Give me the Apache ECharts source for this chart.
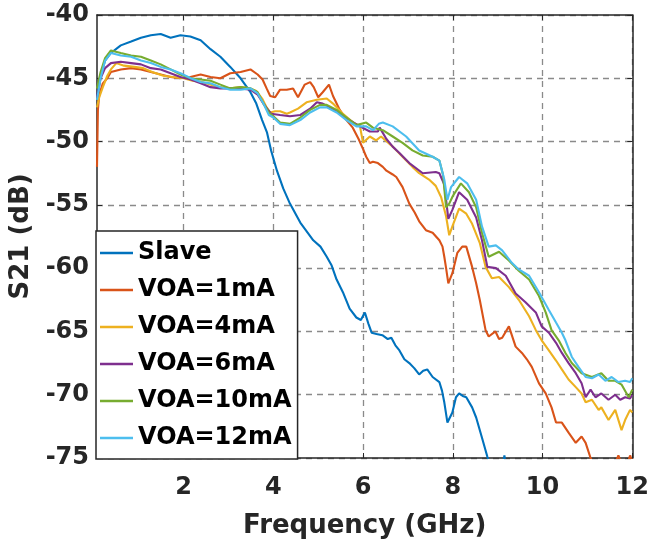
<!DOCTYPE html>
<html>
<head>
<meta charset="utf-8">
<script src="https://cdn.jsdelivr.net/npm/echarts@6/dist/echarts.min.js"></script>
<style>
  html, body { margin: 0; padding: 0; background: #fff; }
  #chart { width: 652px; height: 549px; }
</style>
</head>
<body>
<div id="chart"></div>
<script>
// S21 response vs frequency for the slave laser and several VOA currents

const seriesNames = ['Slave', 'VOA=1mA', 'VOA=4mA', 'VOA=6mA', 'VOA=10mA', 'VOA=12mA'];
const xTicks = [2, 4, 6, 8, 10, 12];

const slaveFreq = [0.07, 0.15, 0.25, 0.38, 0.6, 0.83, 1.05, 1.27, 1.49, 1.71, 1.93, 2.15, 2.38, 2.6, 2.82, 3.04, 3.27, 3.49, 3.62, 3.75, 3.86, 3.95, 4.08, 4.22, 4.37, 4.6, 4.89, 5.05, 5.19, 5.3, 5.41, 5.55, 5.7, 5.85, 5.95, 6.04, 6.12, 6.19, 6.3, 6.43, 6.55, 6.63, 6.72, 6.81, 6.92, 7.03, 7.14, 7.25, 7.34, 7.43, 7.55, 7.7, 7.76, 7.81, 7.88, 7.99, 8.07, 8.14, 8.22, 8.3, 8.43, 8.52, 8.65, 8.77, 8.85, 9.0, 9.1, 9.15, 9.2, 9.4, 10, 11, 12];
const slaveS21 = [-46.5, -44.8, -43.6, -43.0, -42.4, -42.1, -41.8, -41.6, -41.5, -41.8, -41.6, -41.7, -42.0, -42.7, -43.3, -44.1, -45.0, -46.1, -47.0, -48.3, -49.3, -50.7, -52.3, -53.7, -54.9, -56.4, -57.8, -58.3, -59.1, -59.8, -60.9, -61.9, -63.2, -63.9, -64.1, -63.5, -64.4, -65.1, -65.2, -65.3, -65.6, -65.5, -66.1, -66.5, -67.2, -67.5, -67.9, -68.4, -68.1, -68.0, -68.6, -69.0, -69.7, -70.6, -72.2, -71.4, -70.2, -69.9, -70.1, -70.2, -71.0, -71.8, -73.4, -74.9, -75.8, -76.8, -75.9, -74.8, -76.3, -77.5, -79.5, -81.5, -83.0];

const voa1Freq = [0.07, 0.09, 0.12, 0.2, 0.3, 0.38, 0.6, 0.83, 1.05, 1.27, 1.49, 1.71, 1.93, 2.15, 2.38, 2.6, 2.82, 3.04, 3.27, 3.49, 3.65, 3.76, 3.85, 3.93, 4.04, 4.15, 4.3, 4.44, 4.55, 4.7, 4.82, 4.9, 5.0, 5.1, 5.24, 5.33, 5.48, 5.63, 5.77, 5.9, 6.0, 6.07, 6.15, 6.22, 6.33, 6.44, 6.52, 6.66, 6.74, 6.88, 7.03, 7.15, 7.25, 7.4, 7.55, 7.7, 7.77, 7.81, 7.85, 7.9, 7.99, 8.1, 8.21, 8.3, 8.43, 8.52, 8.6, 8.73, 8.8, 8.95, 9.03, 9.1, 9.25, 9.4, 9.54, 9.65, 9.76, 9.92, 10.07, 10.2, 10.3, 10.43, 10.58, 10.74, 10.87, 10.96, 11.07, 11.2, 11.4, 11.6, 11.69, 11.8, 11.9, 11.95, 12.0];
const voa1S21 = [-52.0, -47.5, -46.3, -45.4, -45.0, -44.5, -44.3, -44.2, -44.3, -44.5, -44.7, -44.9, -45.0, -44.9, -44.7, -44.9, -45.0, -44.6, -44.5, -44.3, -44.7, -45.1, -45.8, -46.4, -46.5, -45.9, -45.9, -45.8, -46.5, -45.5, -45.3, -45.7, -46.5, -46.1, -45.5, -46.4, -47.5, -48.3, -48.9, -49.8, -50.6, -51.2, -51.7, -51.6, -51.7, -52.0, -52.3, -52.6, -52.8, -53.6, -54.9, -55.6, -56.3, -57.0, -57.2, -57.8, -58.3, -59.1, -60.0, -61.2, -60.4, -58.8, -58.3, -58.3, -59.9, -61.2, -62.5, -64.9, -65.4, -65.0, -65.6, -65.5, -64.6, -66.2, -66.7, -67.2, -67.8, -69.1, -69.9, -71.0, -72.2, -72.2, -73.0, -73.8, -73.3, -73.8, -75.0, -76.0, -76.5, -75.6, -74.8, -75.8, -75.4, -74.8, -75.3];

const voa4Freq = [0.07, 0.12, 0.2, 0.3, 0.38, 0.5, 0.67, 0.9, 1.1, 1.3, 1.55, 1.75, 2.0, 2.2, 2.4, 2.6, 2.82, 3.04, 3.27, 3.49, 3.62, 3.75, 3.85, 3.93, 4.04, 4.15, 4.3, 4.37, 4.55, 4.74, 4.97, 5.19, 5.33, 5.55, 5.78, 5.93, 6.0, 6.15, 6.29, 6.4, 6.66, 6.88, 7.1, 7.25, 7.47, 7.62, 7.74, 7.85, 7.92, 7.99, 8.14, 8.3, 8.43, 8.6, 8.73, 8.87, 9.03, 9.25, 9.47, 9.7, 9.85, 9.98, 10.14, 10.3, 10.43, 10.58, 10.74, 10.87, 10.96, 11.1, 11.25, 11.31, 11.47, 11.62, 11.76, 11.84, 11.95, 12.0];
const voa4S21 = [-47.3, -46.5, -45.7, -44.8, -44.3, -43.8, -44.0, -44.1, -44.2, -44.5, -44.8, -44.9, -45.0, -45.2, -45.3, -45.5, -45.7, -45.8, -45.7, -45.8, -46.0, -46.6, -47.3, -47.7, -47.6, -47.6, -47.8, -47.7, -47.4, -46.9, -46.7, -46.6, -47.0, -47.8, -48.5, -48.8, -50.1, -49.6, -49.9, -49.6, -50.4, -51.2, -52.0, -52.5, -53.0, -53.5, -54.4, -55.9, -57.4, -56.7, -55.3, -55.7, -56.5, -58.0, -59.9, -60.8, -60.7, -61.5, -62.5, -63.8, -64.9, -65.7, -66.5, -67.3, -68.0, -68.8, -69.4, -69.9, -70.6, -70.4, -71.2, -71.0, -72.0, -71.2, -72.8, -72.0, -71.2, -71.4];

const voa6Freq = [0.07, 0.15, 0.25, 0.38, 0.6, 0.83, 1.05, 1.27, 1.49, 1.71, 1.93, 2.16, 2.38, 2.6, 2.82, 3.04, 3.27, 3.49, 3.65, 3.78, 3.88, 3.95, 4.15, 4.37, 4.6, 4.82, 4.97, 5.1, 5.26, 5.48, 5.7, 5.93, 6.15, 6.33, 6.37, 6.52, 6.66, 6.81, 7.03, 7.33, 7.62, 7.7, 7.81, 7.9, 7.99, 8.14, 8.32, 8.52, 8.65, 8.77, 8.96, 9.18, 9.4, 9.62, 9.85, 9.98, 10.14, 10.3, 10.43, 10.58, 10.74, 10.87, 10.96, 11.07, 11.18, 11.31, 11.47, 11.62, 11.73, 11.84, 11.95, 12.0];
const voa6S21 = [-46.5, -45.0, -44.2, -43.8, -43.7, -43.8, -43.9, -44.2, -44.3, -44.6, -44.9, -45.1, -45.4, -45.7, -45.8, -45.8, -45.8, -45.9, -46.3, -47.0, -47.5, -47.8, -47.9, -48.0, -47.9, -47.4, -46.9, -47.0, -47.3, -47.8, -48.3, -48.8, -49.2, -49.2, -48.9, -49.8, -50.4, -50.9, -51.7, -52.5, -52.4, -52.5, -53.4, -56.1, -55.4, -54.0, -54.6, -56.0, -57.8, -59.9, -60.0, -60.6, -62.0, -62.7, -63.5, -64.6, -65.1, -65.9, -66.7, -67.5, -68.3, -69.1, -70.2, -69.6, -70.2, -69.9, -70.4, -70.0, -70.4, -70.2, -70.3, -70.0];

const voa10Freq = [0.07, 0.15, 0.25, 0.38, 0.6, 0.83, 1.05, 1.27, 1.49, 1.71, 1.93, 2.16, 2.38, 2.6, 2.82, 3.04, 3.27, 3.49, 3.65, 3.78, 3.9, 4.0, 4.15, 4.37, 4.6, 4.82, 5.04, 5.19, 5.41, 5.63, 5.85, 6.07, 6.22, 6.44, 6.66, 6.88, 7.1, 7.33, 7.55, 7.7, 7.78, 7.85, 7.92, 8.0, 8.18, 8.36, 8.52, 8.65, 8.8, 9.03, 9.25, 9.47, 9.7, 9.92, 10.07, 10.2, 10.36, 10.51, 10.65, 10.87, 11.1, 11.31, 11.47, 11.62, 11.76, 11.92, 12.0];
const voa10S21 = [-45.8, -44.5, -43.4, -42.8, -43.0, -43.2, -43.3, -43.6, -43.9, -44.3, -44.7, -45.0, -45.1, -45.2, -45.5, -45.8, -45.7, -45.8, -46.1, -47.0, -47.7, -48.0, -48.5, -48.6, -48.1, -47.5, -47.1, -47.1, -47.5, -48.1, -48.7, -48.5, -48.9, -49.1, -49.6, -50.1, -50.7, -51.1, -51.2, -51.5, -52.6, -55.2, -54.9, -54.3, -53.3, -54.0, -55.2, -57.2, -59.1, -58.7, -59.4, -60.2, -60.9, -62.2, -63.5, -64.9, -65.7, -66.7, -67.5, -68.3, -68.6, -68.3, -68.9, -68.9, -69.2, -70.2, -69.6];

const voa12Freq = [0.07, 0.15, 0.25, 0.38, 0.6, 0.83, 1.05, 1.27, 1.49, 1.71, 1.93, 2.16, 2.38, 2.6, 2.82, 3.04, 3.27, 3.49, 3.65, 3.78, 3.9, 4.0, 4.15, 4.37, 4.6, 4.82, 5.04, 5.19, 5.41, 5.63, 5.85, 6.07, 6.22, 6.35, 6.44, 6.66, 6.96, 7.25, 7.55, 7.7, 7.81, 7.88, 7.96, 8.14, 8.32, 8.52, 8.65, 8.8, 8.96, 9.1, 9.32, 9.47, 9.7, 9.92, 10.14, 10.3, 10.43, 10.51, 10.65, 10.8, 10.96, 11.1, 11.25, 11.4, 11.54, 11.69, 11.84, 11.95, 12.0];
const voa12S21 = [-46.7, -45.0, -43.6, -43.0, -43.2, -43.3, -43.6, -43.8, -44.1, -44.3, -44.6, -45.0, -45.3, -45.4, -45.7, -45.9, -45.9, -45.8, -46.2, -47.0, -47.9, -48.1, -48.6, -48.7, -48.3, -47.7, -47.3, -47.3, -47.7, -48.3, -48.8, -48.8, -49.1, -48.6, -48.5, -48.8, -49.6, -50.7, -51.2, -51.5, -53.0, -54.6, -53.6, -52.8, -53.3, -54.6, -56.7, -58.3, -58.2, -58.6, -59.6, -60.1, -60.6, -61.9, -63.3, -64.3, -65.1, -65.7, -67.0, -67.8, -68.6, -68.7, -68.4, -68.9, -68.6, -69.0, -68.9, -69.0, -68.7];

const colors = ['#0072BD', '#D95319', '#EDB120', '#7E2F8E', '#77AC30', '#4DBEEE'];
const freqs = [slaveFreq, voa1Freq, voa4Freq, voa6Freq, voa10Freq, voa12Freq];
const values = [slaveS21, voa1S21, voa4S21, voa6S21, voa10S21, voa12S21];

const FONT = 'DejaVu Sans';
const INK = '#262626';

function pairs(xs, ys) {
  return xs.map((x, i) => [x, ys[i]]);
}

const series = seriesNames.map((name, i) => ({
  name: name,
  type: 'line',
  xAxisIndex: 0,
  yAxisIndex: 0,
  data: pairs(freqs[i], values[i]),
  symbol: 'none',
  smooth: false,
  clip: true,
  color: colors[i],
  lineStyle: { width: 2.1, color: colors[i] },
  emphasis: { disabled: true },
  z: 2 + i * 0.01
}));

const gridLine = { show: true, lineStyle: { color: '#8a8a8a', type: [6, 5], width: 1.3 } };
const tickStyle = { show: true, inside: true, length: 5, lineStyle: { color: INK, width: 1 } };
const axisLineStyle = { show: true, onZero: false, lineStyle: { color: INK, width: 1.5 } };

const xMin = 0.07, xMax = 12, yMin = -75, yMax = -40;

const chart = echarts.init(document.getElementById('chart'), null, { renderer: 'canvas' });
chart.setOption({
  animation: false,
  backgroundColor: '#fff',
  grid: { left: 96, right: 18, top: 15, bottom: 91, containLabel: false },
  legend: {
    data: seriesNames.map(n => ({ name: n, icon: 'rect' })),
    orient: 'vertical',
    left: 96,
    top: 231,
    padding: [9, 6, 8, 4],
    itemGap: 11,
    itemWidth: 33,
    itemHeight: 2.4,
    backgroundColor: '#fff',
    borderColor: INK,
    borderWidth: 1.5,
    borderRadius: 0,
    selectedMode: false,
    z: 10,
    textStyle: { fontFamily: FONT, fontWeight: 'bold', fontSize: 24, color: '#000', lineHeight: 26 }
  },
  xAxis: [
    {
      type: 'value', position: 'bottom', min: xMin, max: xMax,
      name: 'Frequency (GHz)', nameLocation: 'middle', nameGap: 55,
      nameTextStyle: { fontFamily: FONT, fontWeight: 'bold', fontSize: 26, color: INK },
      axisLine: axisLineStyle,
      axisTick: Object.assign({ customValues: xTicks }, tickStyle),
      axisLabel: { customValues: xTicks, margin: 18, fontFamily: FONT, fontWeight: 'bold', fontSize: 24, color: INK },
      splitLine: gridLine
    },
    {
      type: 'value', position: 'top', min: xMin, max: xMax,
      axisLine: axisLineStyle,
      axisTick: Object.assign({ customValues: xTicks }, tickStyle),
      axisLabel: { show: false },
      splitLine: { show: false }
    }
  ],
  yAxis: [
    {
      type: 'value', position: 'left', min: yMin, max: yMax, interval: 5,
      name: 'S21 (dB)', nameLocation: 'middle', nameGap: 63,
      nameTextStyle: { fontFamily: FONT, fontWeight: 'bold', fontSize: 26, color: INK },
      axisLine: axisLineStyle,
      axisTick: tickStyle,
      axisLabel: { margin: 8, fontFamily: FONT, fontWeight: 'bold', fontSize: 24, color: INK },
      splitLine: gridLine
    },
    {
      type: 'value', position: 'right', min: yMin, max: yMax, interval: 5,
      axisLine: axisLineStyle,
      axisTick: tickStyle,
      axisLabel: { show: false },
      splitLine: { show: false }
    }
  ],
  series: series
});
</script>
</body>
</html>
